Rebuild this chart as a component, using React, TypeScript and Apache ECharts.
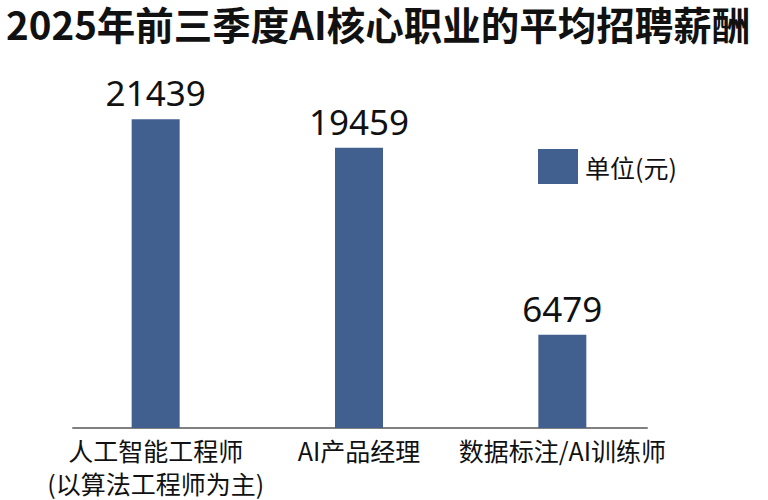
import React, { useEffect, useRef } from "react";
import * as echarts from "echarts";

const titleText = "2025年前三季度AI核心职业的平均招聘薪酬";
const categories = ["人工智能工程师\n(以算法工程师为主)", "AI产品经理", "数据标注/AI训练师"];
const salaries = [21439, 19459, 6479];
const seriesName = "单位(元)";

const FONT = "'Noto Sans CJK SC', 'Noto Sans', sans-serif";
const NUM_FONT = "'Noto Sans', 'Noto Sans CJK SC', sans-serif";

export default function App() {
  const ref = useRef<HTMLDivElement>(null);
  useEffect(() => {
    document.body.style.margin = "0";
    const chart = echarts.init(ref.current!, null, { renderer: "svg" });
    chart.setOption({
      animation: false,
      backgroundColor: "#ffffff",
      textStyle: { fontFamily: FONT },
      title: {
        text: titleText,
        left: 6,
        top: 4,
        padding: 0,
        textStyle: { fontFamily: FONT, fontSize: 38.5, fontWeight: "bold", color: "#111111" },
      },
      legend: {
        left: 538,
        top: 149,
        padding: 0,
        itemWidth: 40,
        itemHeight: 35,
        icon: "rect",
        data: [seriesName],
        textStyle: { fontFamily: FONT, fontSize: 25, color: "#111111", padding: [0, 0, 0, 2] },
      },
      grid: [
        { left: 54, right: 104, top: 68, bottom: 72 },
        { left: 73, right: 121, top: 68, bottom: 72 },
      ],
      xAxis: [
        {
          type: "category",
          gridIndex: 0,
          data: categories,
          axisLine: { show: false },
          axisTick: { show: false },
          axisLabel: {
            fontFamily: FONT,
            fontSize: 25,
            lineHeight: 33,
            color: "#111111",
            margin: 5,
            interval: 0,
          },
        },
        {
          type: "category",
          gridIndex: 1,
          data: [""],
          axisLine: { show: true, lineStyle: { color: "#808080", width: 2 } },
          axisTick: { show: false },
          axisLabel: { show: false },
        },
      ],
      yAxis: [
        { type: "value", gridIndex: 0, min: 0, max: 25000, show: false, splitLine: { show: false } },
        { type: "value", gridIndex: 1, min: 0, max: 25000, show: false, splitLine: { show: false } },
      ],
      series: [
        {
          name: seriesName,
          type: "bar",
          xAxisIndex: 0,
          yAxisIndex: 0,
          data: salaries,
          barWidth: 48,
          itemStyle: { color: "#41608f" },
          label: {
            show: true,
            position: "top",
            distance: 9,
            fontFamily: NUM_FONT,
            fontSize: 35,
            color: "#111111",
          },
        },
      ],
    });
    return () => chart.dispose();
  }, []);
  return <div ref={ref} style={{ width: 768, height: 500 }} />;
}
